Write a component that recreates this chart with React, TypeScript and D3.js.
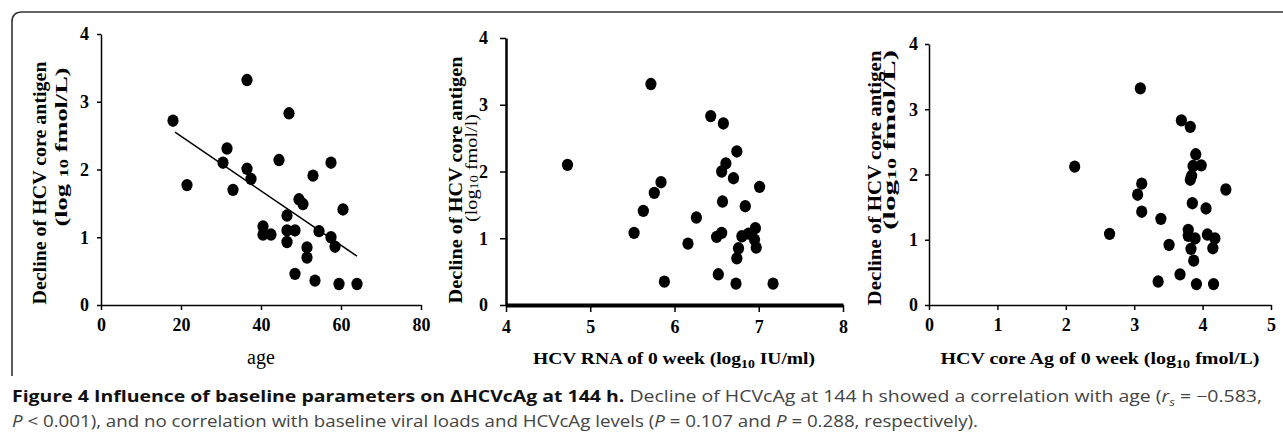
import { useEffect, useRef } from "react";
import * as d3 from "d3";

// ── Data ──────────────────────────────────────────────────────────────────────

const AGE = [18, 21.5, 30.5, 31.5, 33, 36.5, 36.5, 37.5, 40.5, 40.5, 42.5, 44.5, 46.5, 46.5, 46.5, 47, 48.5, 48.5, 49.5, 50.5, 51.5, 51.5, 53, 53.5, 54.5, 57.5, 57.5, 58.5, 59.5, 60.5, 64];
const DECLINE_BY_AGE = [2.72, 1.77, 2.1, 2.31, 1.7, 3.32, 2.01, 1.86, 1.16, 1.04, 1.04, 2.14, 1.32, 1.1, 0.93, 2.83, 1.1, 0.46, 1.56, 1.49, 0.85, 0.7, 1.91, 0.36, 1.09, 2.1, 1.0, 0.86, 0.31, 1.41, 0.31];

const FIT_AGE = [18.5, 64];
const FIT_DECLINE = [2.55, 0.72];

const RNA = [4.73, 5.72, 6.43, 6.58, 6.74, 6.61, 6.56, 6.7, 7.01, 5.84, 5.76, 5.63, 5.52, 6.26, 6.57, 6.84, 6.5, 6.56, 6.16, 6.8, 6.88, 6.96, 6.95, 6.76, 6.97, 6.74, 5.88, 6.52, 6.73, 7.17];
const DECLINE_BY_RNA = [2.1, 3.31, 2.83, 2.72, 2.3, 2.12, 2.0, 1.9, 1.77, 1.84, 1.68, 1.41, 1.08, 1.31, 1.55, 1.48, 1.02, 1.08, 0.92, 1.03, 1.07, 1.15, 0.98, 0.85, 0.86, 0.7, 0.35, 0.46, 0.32, 0.32];

const CORE = [2.13, 3.09, 3.69, 3.82, 3.9, 3.86, 3.98, 3.84, 3.82, 4.34, 3.11, 3.05, 3.11, 3.39, 3.85, 4.05, 2.64, 3.79, 3.79, 3.89, 4.07, 4.18, 3.51, 3.83, 4.15, 3.87, 3.35, 3.67, 3.91, 4.16];
const DECLINE_BY_CORE = [2.12, 3.32, 2.83, 2.73, 2.31, 2.13, 2.14, 1.98, 1.92, 1.77, 1.86, 1.69, 1.43, 1.32, 1.56, 1.48, 1.09, 1.15, 1.06, 1.02, 1.08, 1.02, 0.92, 0.86, 0.87, 0.68, 0.36, 0.47, 0.32, 0.32];

const Y_TICKS = [0, 1, 2, 3, 4];
const AGE_TICKS = [0, 20, 40, 60, 80];
const RNA_TICKS = [4, 5, 6, 7, 8];
const CORE_TICKS = [0, 1, 2, 3, 4, 5];

// ── Tokens ────────────────────────────────────────────────────────────────────

const SERIF = "'Liberation Serif', 'Times New Roman', serif";
const SANS = "'Open Sans', 'Noto Sans', sans-serif";
const INK = "#000";
const FRAME = "#333";
const CAPTION = "#444";

type Label = { x: number; y: number; len: number };

type Panel = {
  xs: number[];
  ys: number[];
  ticks: number[];
  xRange: [number, number];
  yRange: [number, number];
  xDomainW: number;
  yDomainW: number;
  tickSize: number;
  yPad: number;
  lab1: Label;
  lab2: Label;
  lab2Bold: boolean;
  lab2Text: [string, string, string];
  title: { parts: [string, string, string] | null; text: string; x: number; len: number | null; bold: boolean };
};

const PANELS: Panel[] = [
  {
    xs: AGE, ys: DECLINE_BY_AGE, ticks: AGE_TICKS,
    xRange: [101, 421], yRange: [305, 34],
    xDomainW: 1.5, yDomainW: 1.5, tickSize: 4, yPad: 8,
    lab1: { x: 40, y: 183, len: 243 },
    lab2: { x: 61, y: 147, len: 159 },
    lab2Bold: true, lab2Text: ["(log ", "10", " fmol/L)"],
    title: { parts: null, text: "age", x: 261, len: null, bold: false },
  },
  {
    xs: RNA, ys: DECLINE_BY_RNA, ticks: RNA_TICKS,
    xRange: [506, 843], yRange: [305, 38],
    xDomainW: 4, yDomainW: 2.5, tickSize: 6, yPad: 12,
    lab1: { x: 456, y: 180, len: 247 },
    lab2: { x: 471, y: 168, len: 108 },
    lab2Bold: false, lab2Text: ["(log", "10", " fmol/l)"],
    title: { parts: ["HCV RNA of 0 week (log", "10", " IU/ml)"], text: "", x: 674, len: 282, bold: true },
  },
  {
    xs: CORE, ys: DECLINE_BY_CORE, ticks: CORE_TICKS,
    xRange: [929, 1271], yRange: [305, 44],
    xDomainW: 1.5, yDomainW: 1.5, tickSize: 4, yPad: 7,
    lab1: { x: 875, y: 178, len: 255 },
    lab2: { x: 889, y: 140, len: 180 },
    lab2Bold: true, lab2Text: ["(log", "10", " fmol/L)"],
    title: { parts: ["HCV core Ag of 0 week (log", "10", " fmol/L)"], text: "", x: 1100, len: 319, bold: true },
  },
];

// ── Chart ─────────────────────────────────────────────────────────────────────

export default function App() {
  const svgRef = useRef<SVGSVGElement>(null);

  useEffect(() => {
    if (!svgRef.current) return;
    const W = 1283, H = 440;
    const svg = d3.select(svgRef.current);
    svg.selectAll("*").remove();
    svg.attr("viewBox", `0 0 ${W} ${H}`);

    // Frame (rounded top-left corner, open at the bottom)
    svg.append("path")
      .attr("d", "M12,376 L12,22 Q12,12 22,12 L1283,12")
      .attr("fill", "none")
      .attr("stroke", FRAME)
      .attr("stroke-width", 1.6);

    PANELS.forEach((p, i) => {
      const t = p.ticks;
      const x = d3.scaleLinear().domain([t[0], t[t.length - 1]]).range(p.xRange);
      const y = d3.scaleLinear().domain([0, 4]).range(p.yRange);
      const g = svg.append("g");

      // Y axis
      g.append("g")
        .attr("transform", `translate(${p.xRange[0]},0)`)
        .call(d3.axisLeft(y).tickValues(Y_TICKS).tickFormat(d3.format("d"))
          .tickSize(p.tickSize).tickSizeOuter(0).tickPadding(p.yPad))
        .call(gg => gg.select(".domain").attr("stroke", INK).attr("stroke-width", p.yDomainW))
        .call(gg => gg.selectAll("line").attr("stroke", INK).attr("stroke-width", 1.5))
        .call(gg => gg.selectAll("text")
          .attr("fill", INK)
          .attr("font-size", "18px")
          .attr("font-weight", "bold")
          .attr("font-family", SERIF));

      // X axis
      g.append("g")
        .attr("transform", `translate(0,${p.yRange[0]})`)
        .call(d3.axisBottom(x).tickValues(t).tickFormat(d3.format("d"))
          .tickSize(p.tickSize + 1).tickSizeOuter(0).tickPadding(8))
        .call(gg => gg.select(".domain").attr("stroke", INK).attr("stroke-width", p.xDomainW))
        .call(gg => gg.selectAll("line").attr("stroke", INK).attr("stroke-width", 1.5))
        .call(gg => gg.selectAll("text")
          .attr("fill", INK)
          .attr("font-size", "18px")
          .attr("font-weight", "bold")
          .attr("font-family", SERIF));

      // Regression line (age panel only)
      if (i === 0) {
        g.append("line")
          .attr("x1", x(FIT_AGE[0])).attr("y1", y(FIT_DECLINE[0]))
          .attr("x2", x(FIT_AGE[1])).attr("y2", y(FIT_DECLINE[1]))
          .attr("stroke", INK)
          .attr("stroke-width", 1.5);
      }

      // Points
      g.selectAll("ellipse")
        .data(p.xs.map((v, k) => ({ v, d: p.ys[k] })))
        .join("ellipse")
        .attr("cx", d => x(d.v))
        .attr("cy", d => y(d.d))
        .attr("rx", 5.6)
        .attr("ry", 6.2)
        .attr("fill", INK);

      // Y title, line 1
      g.append("text")
        .attr("transform", `translate(${p.lab1.x},${p.lab1.y}) rotate(-90)`)
        .attr("text-anchor", "middle")
        .attr("dominant-baseline", "central")
        .attr("font-family", SERIF)
        .attr("font-weight", "bold")
        .attr("font-size", "18px")
        .attr("textLength", p.lab1.len)
        .attr("lengthAdjust", "spacingAndGlyphs")
        .attr("fill", INK)
        .text("Decline of HCV core antigen");

      // Y title, line 2
      const l2 = g.append("text")
        .attr("transform", `translate(${p.lab2.x},${p.lab2.y}) rotate(-90)`)
        .attr("text-anchor", "middle")
        .attr("dominant-baseline", "central")
        .attr("font-family", SERIF)
        .attr("font-weight", p.lab2Bold ? "bold" : "normal")
        .attr("font-size", "17px")
        .attr("textLength", p.lab2.len)
        .attr("lengthAdjust", "spacingAndGlyphs")
        .attr("fill", INK);
      l2.append("tspan").text(p.lab2Text[0]);
      l2.append("tspan").attr("font-size", "12px").attr("dy", 3).text(p.lab2Text[1]);
      l2.append("tspan").attr("dy", -3).text(p.lab2Text[2]);

      // X title
      const tt = g.append("text")
        .attr("x", p.title.x)
        .attr("y", 364)
        .attr("text-anchor", "middle")
        .attr("font-family", SERIF)
        .attr("font-weight", p.title.bold ? "bold" : "normal")
        .attr("font-size", p.title.bold ? "17px" : "20px")
        .attr("fill", INK);
      if (p.title.len) tt.attr("textLength", p.title.len).attr("lengthAdjust", "spacingAndGlyphs");
      if (p.title.parts) {
        tt.append("tspan").text(p.title.parts[0]);
        tt.append("tspan").attr("font-size", "12px").attr("dy", 4).text(p.title.parts[1]);
        tt.append("tspan").attr("dy", -4).text(p.title.parts[2]);
      } else {
        tt.text(p.title.text);
      }
    });

    // Caption
    const c1 = svg.append("text")
      .attr("x", 12).attr("y", 402)
      .attr("font-family", SANS)
      .attr("font-size", "16px")
      .attr("fill", CAPTION)
      .attr("textLength", 1250)
      .attr("lengthAdjust", "spacingAndGlyphs");
    c1.append("tspan").attr("font-weight", "bold").attr("fill", "#111")
      .text("Figure 4 Influence of baseline parameters on ΔHCVcAg at 144 h.");
    c1.append("tspan").text(" Decline of HCVcAg at 144 h showed a correlation with age (");
    c1.append("tspan").attr("font-style", "italic").text("r");
    c1.append("tspan").attr("font-style", "italic").attr("font-size", "11px").attr("dy", 4).text("s");
    c1.append("tspan").attr("dy", -4).text(" = −0.583,");

    const c2 = svg.append("text")
      .attr("x", 12).attr("y", 427)
      .attr("font-family", SANS)
      .attr("font-size", "16px")
      .attr("fill", CAPTION)
      .attr("textLength", 966)
      .attr("lengthAdjust", "spacingAndGlyphs");
    c2.append("tspan").attr("font-style", "italic").text("P");
    c2.append("tspan").text(" < 0.001), and no correlation with baseline viral loads and HCVcAg levels (");
    c2.append("tspan").attr("font-style", "italic").text("P");
    c2.append("tspan").text(" = 0.107 and ");
    c2.append("tspan").attr("font-style", "italic").text("P");
    c2.append("tspan").text(" = 0.288, respectively).");
  }, []);

  return (
    <div style={{ position: "absolute", left: 0, top: 0, width: 1283, height: 440, background: "#fff" }}>
      <svg ref={svgRef} width={1283} height={440} style={{ display: "block" }} />
    </div>
  );
}
